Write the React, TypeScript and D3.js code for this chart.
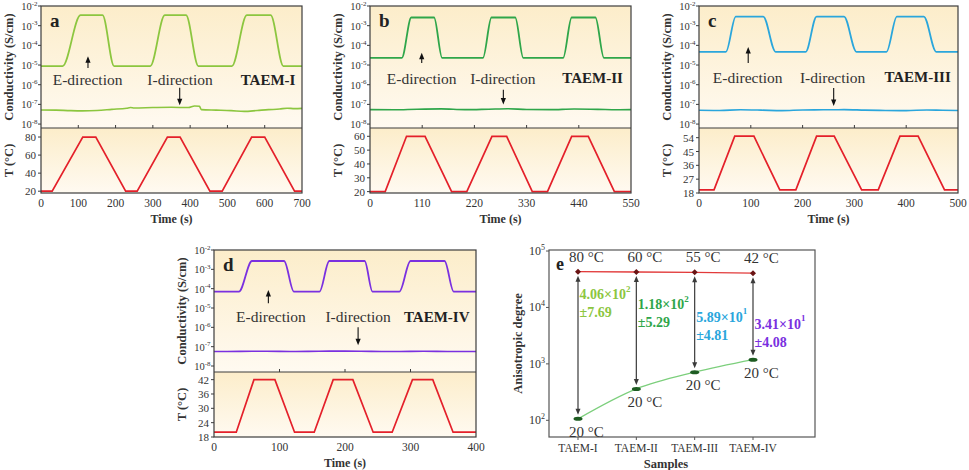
import React from "react";
import * as d3 from "d3";

const SERIF = "'Liberation Serif','Times New Roman',Times,serif";

// ---- TAEM-I ----
const tempTimeA = [0, 30, 112, 147, 227, 258, 339, 373, 453, 486, 565, 600, 680, 700];
const tempValA = [20, 20, 80, 80, 20, 20, 80, 80, 20, 20, 80, 80, 20, 20];
const eTimeA = [0, 58, 106, 165, 196, 293, 332, 389, 422, 512, 552, 616, 650, 700];
const eCondA = [8.9e-6, 8.9e-6, 3.4e-3, 3.4e-3, 8.9e-6, 8.9e-6, 3.4e-3, 3.4e-3, 8.9e-6, 8.9e-6, 3.4e-3, 3.4e-3, 8.9e-6, 8.9e-6];
const iTimeA = [0, 40, 80, 110, 150, 190, 230, 240, 250, 300, 350, 395, 412, 425, 430, 470, 510, 545, 580, 610, 640, 660, 680, 700];
const iCondA = [5.2e-8, 5.1e-8, 4.8e-8, 4.7e-8, 4.9e-8, 5.6e-8, 6.4e-8, 6.9e-8, 6.6e-8, 6.9e-8, 7.1e-8, 6.9e-8, 8.3e-8, 8.0e-8, 5.4e-8, 5.1e-8, 4.8e-8, 4.4e-8, 4.9e-8, 5.4e-8, 5.8e-8, 6.4e-8, 6.1e-8, 6.3e-8];

// ---- TAEM-II ----
const tempTimeB = [0, 32, 77, 116, 172, 204, 257, 288, 342, 374, 425, 460, 515, 550];
const tempValB = [20, 20, 60, 60, 20, 20, 60, 60, 20, 20, 60, 60, 20, 20];
const eTimeB = [0, 67, 87, 135, 152, 238, 256, 306, 323, 407, 425, 475, 493, 550];
const eCondB = [2.3e-5, 2.3e-5, 2.6e-3, 2.6e-3, 2.3e-5, 2.3e-5, 2.6e-3, 2.6e-3, 2.3e-5, 2.3e-5, 2.6e-3, 2.6e-3, 2.3e-5, 2.3e-5];
const iTimeB = [0, 50, 100, 150, 200, 250, 290, 330, 380, 430, 480, 520, 550];
const iCondB = [5.4e-8, 5.3e-8, 5.7e-8, 5.9e-8, 5.4e-8, 5.7e-8, 6.0e-8, 5.5e-8, 5.4e-8, 5.8e-8, 5.6e-8, 5.3e-8, 5.4e-8];

// ---- TAEM-III ----
const tempTimeC = [0, 29, 69, 106, 156, 187, 227, 261, 314, 346, 388, 423, 474, 500];
const tempValC = [20, 20, 55, 55, 20, 20, 55, 55, 20, 20, 55, 55, 20, 20];
const eTimeC = [0, 52, 71, 124, 148, 206, 227, 280, 304, 362, 382, 434, 458, 500];
const eCondC = [4.7e-5, 4.7e-5, 2.9e-3, 2.9e-3, 4.7e-5, 4.7e-5, 2.9e-3, 2.9e-3, 4.7e-5, 4.7e-5, 2.9e-3, 2.9e-3, 4.7e-5, 4.7e-5];
const iTimeC = [0, 40, 80, 120, 160, 200, 240, 280, 320, 360, 400, 440, 470, 500];
const iCondC = [5.0e-8, 4.9e-8, 5.3e-8, 5.1e-8, 4.8e-8, 5.2e-8, 5.3e-8, 5.4e-8, 5.1e-8, 4.9e-8, 4.8e-8, 5.2e-8, 5.0e-8, 4.9e-8];

// ---- TAEM-IV ----
const tempTimeD = [0, 34, 61, 93, 123, 153, 182, 212, 243, 272, 303, 334, 365, 400];
const tempValD = [20, 20, 42, 42, 20, 20, 42, 42, 20, 20, 42, 42, 20, 20];
const eTimeD = [0, 38, 58, 107, 122, 161, 176, 230, 242, 283, 300, 352, 366, 400];
const eCondD = [7.0e-5, 7.0e-5, 2.7e-3, 2.7e-3, 7.0e-5, 7.0e-5, 2.7e-3, 2.7e-3, 7.0e-5, 7.0e-5, 2.7e-3, 2.7e-3, 7.0e-5, 7.0e-5];
const iTimeD = [0, 40, 80, 120, 160, 200, 240, 280, 320, 360, 400];
const iCondD = [5.6e-8, 5.7e-8, 5.8e-8, 5.6e-8, 5.8e-8, 5.9e-8, 5.7e-8, 5.6e-8, 5.8e-8, 5.6e-8, 5.6e-8];

// ---- anisotropy summary ----
const samples = ["TAEM-I", "TAEM-II", "TAEM-III", "TAEM-IV"];
const highTemp = [80, 60, 55, 42];
const lowTemp = [20, 20, 20, 20];
const anisoHigh = [4.3e4, 4.25e4, 4.2e4, 4.05e4];
const anisoLow = [106, 360, 713, 1188];
const ratioMant = ["4.06", "1.18", "5.89", "3.41"];
const ratioExp = ["2", "2", "1", "1"];
const ratioErr = ["±7.69", "±5.29", "±4.81", "±4.08"];
const sampleColors = ["#8cc63f", "#2fa64a", "#2aa6dc", "#7a30e0"];

const logExps = [-2, -3, -4, -5, -6, -7, -8];

const head = (x: number, tip: number, dir: number, w = 2.6, l = 6.5) =>
  `M${x},${tip}L${x - w},${tip - dir * l}L${x + w},${tip - dir * l}Z`;

const TracePanel = (p: any) => {
  const x = d3.scaleLinear([0, p.tMax], [p.left, p.right]);
  const yc = d3.scaleLog(p.condDomain, [p.mid, p.top]);
  const yt = d3.scaleLinear(p.tempDomain, [p.bottom, p.mid]);
  const condLine = d3.line<[number, number]>().x(d => x(d[0])).y(d => yc(d[1])).curve(d3.curveMonotoneX);
  const eD = condLine(d3.zip(p.eTime, p.eCond) as any) || "";
  const iD = condLine(d3.zip(p.iTime, p.iCond) as any) || "";
  const tD = d3.line<[number, number]>().x(d => x(d[0])).y(d => yt(d[1]))(d3.zip(p.tempTime, p.tempVal) as any) || "";
  const w = p.right - p.left;
  const ly = (e: number) => yc(Math.pow(10, e));
  const a = p.ann;
  return (
    <g fontFamily={SERIF}>
      <rect x={p.left} y={p.top} width={w} height={p.mid - p.top} fill="url(#cream)" />
      <rect x={p.left} y={p.mid} width={w} height={p.bottom - p.mid} fill="url(#cream)" />
      <path d={iD} fill="none" stroke={p.color} strokeWidth={1.6} />
      <path d={eD} fill="none" stroke={p.color} strokeWidth={1.8} />
      <path d={tD} fill="none" stroke="#e4202a" strokeWidth={1.7} />
      <rect x={p.left} y={p.top} width={w} height={p.bottom - p.top} fill="none" stroke="#3c3c3c" strokeWidth={1.2} />
      <line x1={p.left} x2={p.right} y1={p.mid} y2={p.mid} stroke="#3c3c3c" strokeWidth={1.2} />
      {p.tTicks.map((t: number) => (
        <g key={t}>
          {t > 0 && t < p.tMax && <line x1={x(t)} x2={x(t)} y1={p.mid} y2={p.mid - 3} stroke="#3c3c3c" />}
          <text x={x(t)} y={p.bottom + 14} fontSize={11.5} textAnchor="middle" fill="#333">{t}</text>
        </g>
      ))}
      {logExps.map(e => (
        <g key={e}>
          <line x1={p.left - 3} x2={p.left} y1={ly(e)} y2={ly(e)} stroke="#3c3c3c" />
          <text x={p.left - 3.5} y={ly(e) + 4} fontSize={10.5} textAnchor="end" fill="#333">
            10<tspan dy={-4.5} fontSize={7}>{e}</tspan>
          </text>
        </g>
      ))}
      {p.tempTicks.map((v: number) => (
        <g key={v}>
          <line x1={p.left - 3} x2={p.left} y1={yt(v)} y2={yt(v)} stroke="#3c3c3c" />
          <text x={p.left - 5} y={yt(v) + 4} fontSize={11} textAnchor="end" fill="#333">{v}</text>
        </g>
      ))}
      <text transform={`translate(${p.left - 32},${(p.top + p.mid) / 2}) rotate(-90)`} textAnchor="middle"
        dominantBaseline="central" fontSize={12.5} fontWeight="bold" fill="#333">Conductivity (S/cm)</text>
      <text transform={`translate(${p.left - 32},${(p.mid + p.bottom) / 2}) rotate(-90)`} textAnchor="middle"
        dominantBaseline="central" fontSize={12.5} fontWeight="bold" fill="#333">T (°C)</text>
      <text x={(p.left + p.right) / 2} y={p.bottom + 30} textAnchor="middle" fontSize={12} fontWeight="bold" fill="#333">Time (s)</text>
      <text x={p.left + 9} y={p.top + 21} fontSize={19} fontWeight="bold" fill="#222">{p.letter}</text>
      {/* direction annotations */}
      <text x={x(a.eText)} y={ly(a.textY)} dominantBaseline="central" textAnchor="middle" fontSize={15.5} fill="#333">E-direction</text>
      <text x={x(a.iText)} y={ly(a.textY)} dominantBaseline="central" textAnchor="middle" fontSize={15.5} fill="#333">I-direction</text>
      <text x={x(a.sText)} y={ly(a.textY)} dominantBaseline="central" textAnchor="middle" fontSize={15} fontWeight="bold" fill="#222">{p.sample}</text>
      <line x1={x(a.eArrow)} x2={x(a.eArrow)} y1={ly(a.eFrom)} y2={ly(a.eTo) + 5} stroke="#111" strokeWidth={1.1} />
      <path d={head(x(a.eArrow), ly(a.eTo), -1)} fill="#111" />
      <line x1={x(a.iArrow)} x2={x(a.iArrow)} y1={ly(a.iFrom)} y2={ly(a.iTo) - 5} stroke="#111" strokeWidth={1.1} />
      <path d={head(x(a.iArrow), ly(a.iTo), 1)} fill="#111" />
    </g>
  );
};

const AnisoPanel = () => {
  const left = 549, right = 815, top = 250, bottom = 437;
  const x = d3.scaleLinear([0, 3], [578, 753]);
  const y = d3.scaleLog([Math.pow(10, 1.704), Math.pow(10, 5.018)], [bottom, top]);
  const idx = samples.map((_, i) => i);
  const hiLine = d3.line<number>().x(i => x(i)).y(i => y(anisoHigh[i]))(idx) || "";
  const loLine = d3.line<number>().x(i => x(i)).y(i => y(anisoLow[i])).curve(d3.curveMonotoneX)(idx) || "";
  // vertical offsets of the ratio labels below the upper line
  const drop = [23, 33, 45, 51];
  return (
    <g fontFamily={SERIF}>
      <rect x={left} y={top} width={right - left} height={bottom - top} fill="#fff" stroke="#555" strokeWidth={1.2} />
      {[2, 3, 4, 5].map(e => (
        <g key={e}>
          <line x1={left - 3} x2={left} y1={y(Math.pow(10, e))} y2={y(Math.pow(10, e))} stroke="#555" />
          <text x={left - 4} y={y(Math.pow(10, e)) + 4} fontSize={12} textAnchor="end" fill="#333">
            10<tspan dy={-5} fontSize={8}>{e}</tspan>
          </text>
        </g>
      ))}
      {samples.map((s, i) => (
        <g key={s}>
          <line x1={x(i)} x2={x(i)} y1={bottom} y2={bottom + 3} stroke="#555" />
          <text x={x(i)} y={bottom + 15} textAnchor="middle" fontSize={11.5} fill="#333">{s}</text>
        </g>
      ))}
      <text transform={`translate(${left - 31},${(top + bottom) / 2}) rotate(-90)`} textAnchor="middle"
        dominantBaseline="central" fontSize={12.5} fontWeight="bold" fill="#333">Anisotropic degree</text>
      <text x={(left + 783) / 2} y={bottom + 31} textAnchor="middle" fontSize={12.5} fontWeight="bold" fill="#333">Samples</text>
      <text x={left + 7} y={top + 20} fontSize={18} fontWeight="bold" fill="#222">e</text>
      <path d={loLine} fill="none" stroke="#7ccf7c" strokeWidth={1.2} />
      <path d={hiLine} fill="none" stroke="#e23a3a" strokeWidth={1.3} />
      {idx.map(i => {
        const yh = y(anisoHigh[i]), yl = y(anisoLow[i]);
        return (
          <g key={i}>
            <line x1={x(i)} x2={x(i)} y1={yh + 9} y2={yl - 9} stroke="#3a3a3a" strokeWidth={1.2} />
            <path d={head(x(i), yh + 4, -1, 2.5, 6)} fill="#3a3a3a" />
            <path d={head(x(i), yl - 4, 1, 2.5, 6)} fill="#3a3a3a" />
            <path d={`M${x(i) - 3},${yh}L${x(i)},${yh - 3}L${x(i) + 3},${yh}L${x(i)},${yh + 3}Z`} fill="#6a1414" />
            <ellipse cx={x(i)} cy={yl} rx={4.5} ry={2} fill="#1e5c22" />
            <text x={x(i) + 8.5} y={yh - 10} textAnchor="middle" fontSize={15} fill="#333">{highTemp[i]} °C</text>
            <text x={x(i) + 8.5} y={yl + 13} dominantBaseline="central" textAnchor="middle" fontSize={15} fill="#333">{lowTemp[i]} °C</text>
            <text x={x(i) + 1.5} y={yh + drop[i]} dominantBaseline="central" fontSize={14} fontWeight="bold" fill={sampleColors[i]}>
              {ratioMant[i]}×10<tspan dy={-6} fontSize={9}>{ratioExp[i]}</tspan>
            </text>
            <text x={x(i) + 1.5} y={yh + drop[i] + 18} dominantBaseline="central" fontSize={14} fontWeight="bold" fill={sampleColors[i]}>{ratioErr[i]}</text>
          </g>
        );
      })}
    </g>
  );
};

export default function App() {
  const panels = [
    {
      letter: "a", sample: "TAEM-I", color: sampleColors[0], left: 41, right: 302, top: 6, mid: 128, bottom: 193,
      tMax: 700, tTicks: [0, 100, 200, 300, 400, 500, 600, 700], tempDomain: [18, 90], tempTicks: [20, 40, 60, 80],
      condDomain: [Math.pow(10, -8.2), 1e-2], tempTime: tempTimeA, tempVal: tempValA,
      eTime: eTimeA, eCond: eCondA, iTime: iTimeA, iCond: iCondA,
      ann: { textY: -5.74, eText: 125, iText: 373, sText: 609, eArrow: 126, eFrom: -5.15, eTo: -4.55, iArrow: 372, iFrom: -6.15, iTo: -7.05 },
    },
    {
      letter: "b", sample: "TAEM-II", color: sampleColors[1], left: 370, right: 631, top: 6, mid: 128, bottom: 193,
      tMax: 550, tTicks: [0, 110, 220, 330, 440, 550], tempDomain: [19, 66], tempTicks: [20, 30, 40, 50, 60],
      condDomain: [Math.pow(10, -8.2), 1e-2], tempTime: tempTimeB, tempVal: tempValB,
      eTime: eTimeB, eCond: eCondB, iTime: iTimeB, iCond: iCondB,
      ann: { textY: -5.66, eText: 109, iText: 280, sText: 469, eArrow: 109, eFrom: -4.9, eTo: -4.38, iArrow: 281, iFrom: -6.25, iTo: -7.0 },
    },
    {
      letter: "c", sample: "TAEM-III", color: sampleColors[2], left: 699, right: 958, top: 6, mid: 128, bottom: 193,
      tMax: 500, tTicks: [0, 100, 200, 300, 400, 500], tempDomain: [18, 60.3], tempTicks: [18, 27, 36, 45, 54],
      condDomain: [Math.pow(10, -8.2), 1e-2], tempTime: tempTimeC, tempVal: tempValC,
      eTime: eTimeC, eCond: eCondC, iTime: iTimeC, iCond: iCondC,
      ann: { textY: -5.61, eText: 94, iText: 258, sText: 422, eArrow: 95, eFrom: -4.9, eTo: -4.08, iArrow: 260, iFrom: -6.17, iTo: -7.08 },
    },
    {
      letter: "d", sample: "TAEM-IV", color: sampleColors[3], left: 214, right: 476, top: 250, mid: 372, bottom: 437,
      tMax: 400, tTicks: [0, 100, 200, 300, 400], tempDomain: [18, 45.2], tempTicks: [18, 24, 30, 36, 42],
      condDomain: [Math.pow(10, -8.31), 1e-2], tempTime: tempTimeD, tempVal: tempValD,
      eTime: eTimeD, eCond: eCondD, iTime: iTimeD, iCond: iCondD,
      ann: { textY: -5.46, eText: 87, iText: 220, sText: 340, eArrow: 83, eFrom: -4.75, eTo: -4.07, iArrow: 220, iFrom: -5.99, iTo: -6.93 },
    },
  ];
  return (
    <svg width={969} height={470} style={{ position: "absolute", left: 0, top: 0, background: "#fff" }}>
      <defs>
        <linearGradient id="cream" x1="0" y1="0" x2="0" y2="1">
          <stop offset="0" stopColor="#fcedca" />
          <stop offset="1" stopColor="#fffaf1" />
        </linearGradient>
      </defs>
      {panels.map(p => <TracePanel key={p.letter} {...p} />)}
      <AnisoPanel />
    </svg>
  );
}
